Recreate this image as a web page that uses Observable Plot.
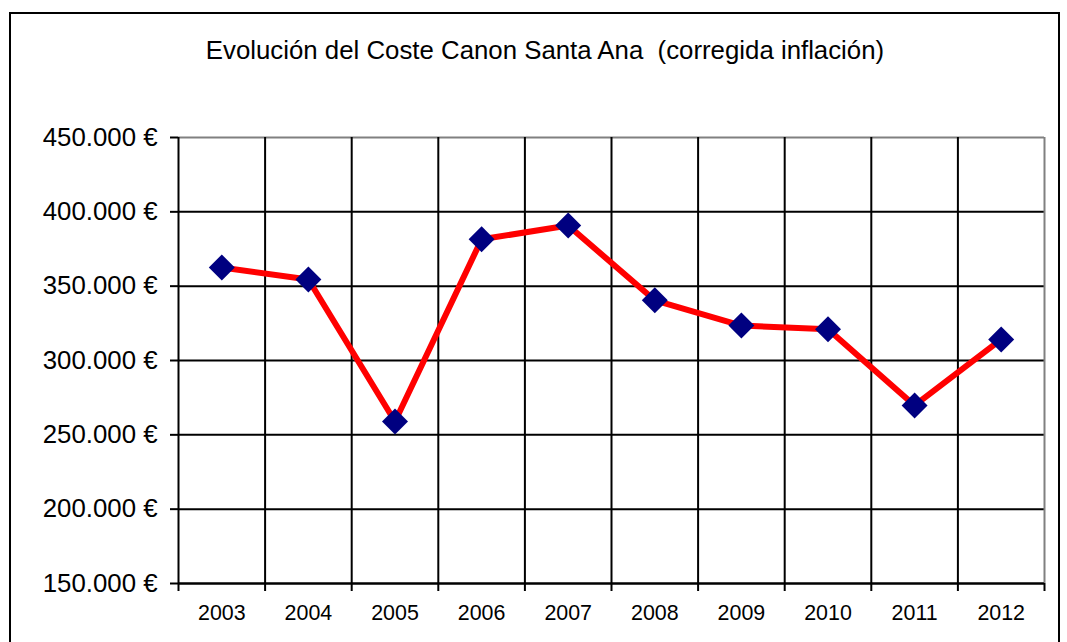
<!DOCTYPE html>
<html>
<head>
<meta charset="utf-8">
<script src="https://cdn.jsdelivr.net/npm/d3@7"></script>
<script src="https://cdn.jsdelivr.net/npm/@observablehq/plot@0.6"></script>
<style>
  html, body { margin: 0; padding: 0; background: #fff; }
  #wrap { position: relative; width: 1067px; height: 642px; overflow: hidden; }
  #frame { position: absolute; left: 9px; top: 12px; width: 1051px; height: 700px; border: 2px solid #000; box-sizing: border-box; pointer-events: none; }
  #title { position: absolute; left: 0; width: 1090px; top: 35px; text-align: center; font: 25.8px "Liberation Sans", Arial, sans-serif; color: #000; line-height: 30px; }
  #chart { position: absolute; left: 0; top: 0; }
</style>
</head>
<body>
<div id="wrap">
  <div id="chart"></div>
  <div id="frame"></div>
  <div id="title">Evolución del Coste Canon Santa Ana&nbsp; (corregida inflación)</div>
</div>
<script>
const years = [2003, 2004, 2005, 2006, 2007, 2008, 2009, 2010, 2011, 2012];
const costs = [362500, 354500, 259000, 381500, 390800, 340500, 323500, 321000, 269800, 314200];
const yTicks = [150000, 200000, 250000, 300000, 350000, 400000, 450000];
const boundaries = [2002.5, ...years.map(y => y + 0.5)];

const data = years.map((y, i) => ({year: y, cost: costs[i]}));
const euro = d3.formatLocale({decimal: ",", thousands: ".", grouping: [3], currency: ["", " €"]}).format("$,.0f");

const chart = Plot.plot({
  width: 1067,
  height: 642,
  marginLeft: 178,
  marginRight: 23,
  marginTop: 137,
  marginBottom: 59,
  style: {fontFamily: "'Liberation Sans', Arial, sans-serif", background: "transparent"},
  x: {domain: [2002.5, 2012.5], axis: null},
  y: {domain: [150000, 450000], axis: null},
  marks: [
    Plot.ruleY(yTicks.slice(0, -1), {stroke: "#000", strokeWidth: 2}),
    Plot.ruleY([450000], {stroke: "#808080", strokeWidth: 2}),
    Plot.ruleX(boundaries.slice(0, -1), {stroke: "#000", strokeWidth: 2}),
    Plot.ruleX([2012.5], {stroke: "#808080", strokeWidth: 2}),
    Plot.axisY(yTicks, {label: null, tickSize: 8, tickPadding: 13, tickFormat: euro, fontSize: 25.8, stroke: "#000", strokeWidth: 2, strokeOpacity: 1, color: "#000"}),
    Plot.axisX(boundaries, {label: null, tickSize: 8, tickFormat: () => "", stroke: "#000", strokeWidth: 2, strokeOpacity: 1}),
    Plot.axisX(years, {label: null, tickSize: 0, tickPadding: 21, tickFormat: d => String(d), fontSize: 21.4, color: "#000"}),
    Plot.ruleY([150000], {stroke: "#000", strokeWidth: 2}),
    Plot.line(data, {x: "year", y: "cost", stroke: "#ff0000", strokeWidth: 6}),
    Plot.dot(data, {x: "year", y: "cost", symbol: "diamond2", r: 11.7, fill: "#000080", stroke: "none"})
  ]
});
document.getElementById("chart").appendChild(chart);
</script>
</body>
</html>
